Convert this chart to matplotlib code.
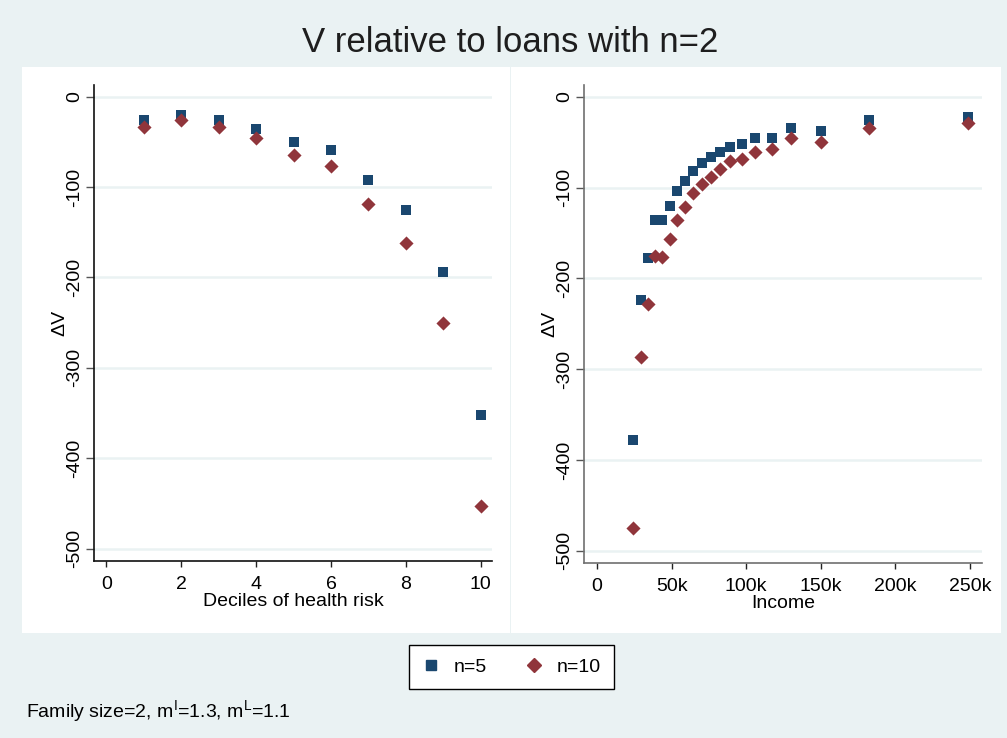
import matplotlib
matplotlib.use("Agg")
import matplotlib.pyplot as plt
from matplotlib.patches import Rectangle
from matplotlib.lines import Line2D

plt.rcParams['font.family'] = ['Liberation Sans', 'DejaVu Sans']
plt.rcParams['mathtext.fontset'] = 'custom'
plt.rcParams['mathtext.rm'] = 'Liberation Sans'

# ---- data ----
deciles = [1, 2, 3, 4, 5, 6, 7, 8, 9, 10]
health_n5 = [-26, -20, -26, -36, -50, -59, -92, -125, -194, -352]
health_n10 = [-34, -26, -34, -46, -65, -77, -119, -162, -251, -453]

income = [23800, 29200, 34000, 38700, 43800, 48700, 53500, 58800, 64300, 70400,
          76400, 82600, 89100, 97000, 105600, 117200, 129800, 150000, 182400, 248500]
income_n5 = [-378, -224, -178, -136, -136, -120, -104, -93, -82, -73,
             -66, -61, -55, -52, -46, -45, -35, -38, -26, -22]
income_n10 = [-475, -287, -228, -175, -176, -157, -136, -121, -106, -96,
              -88, -80, -71, -69, -61, -58, -46, -50, -34, -29]

y_ticks = [0, -100, -200, -300, -400, -500]
health_ticks = [0, 2, 4, 6, 8, 10]
income_ticks = [0, 50000, 100000, 150000, 200000, 250000]
income_ticklabels = ["0", "50k", "100k", "150k", "200k", "250k"]

title = "V relative to loans with n=2"
series_labels = ["n=5", "n=10"]
note = r"Family size=2, m$^{\mathrm{I}}$=1.3, m$^{\mathrm{L}}$=1.1"

# ---- style ----
BG = "#EAF2F3"
C5 = "#1a476f"
C10 = "#90353b"
W, H = 1007, 738
FS = 14

fig = plt.figure(figsize=(W / 100, H / 100), dpi=100, facecolor=BG)

def fx(px):
    return px / W

def fy(py):
    return 1 - py / H

# white panels
for x0, x1 in [(22, 509.5), (511, 1000.5)]:
    fig.patches.append(Rectangle((fx(x0), fy(633)), fx(x1 - x0), (633 - 67) / H,
                                 transform=fig.transFigure, facecolor="white",
                                 edgecolor="none", zorder=-10))

def style_axes(ax, spine_color):
    ax.set_zorder(5)
    ax.set_facecolor("white")
    for s in ["top", "right"]:
        ax.spines[s].set_visible(False)
    for s in ["left", "bottom"]:
        ax.spines[s].set_color(spine_color)
        ax.spines[s].set_linewidth(1.2)
    ax.set_yticks(y_ticks)
    ax.set_yticklabels([str(v) for v in y_ticks], rotation=90, va="center")
    ax.tick_params(axis="y", length=6, width=1, color="#555555", labelsize=FS, pad=2)
    ax.tick_params(axis="x", length=4, width=1, color="#222222", labelsize=FS, pad=7)
    ax.grid(axis="y", color=BG, linewidth=1.8)
    ax.set_axisbelow(True)
    ax.set_ylabel("ΔV", fontsize=FS, labelpad=-2)

# left axes
ax1 = fig.add_axes([fx(94), fy(560.7), fx(492 - 94), (560.7 - 85) / H])
style_axes(ax1, "#111111")
ax1.scatter(deciles, health_n5, marker="s", s=7.2 ** 2, color=C5, zorder=3, linewidths=0)
ax1.scatter(deciles, health_n10, marker="D", s=7.2 ** 2, color=C10, zorder=4, linewidths=0)
ax1.set_xticks(health_ticks)
ax1.set_xlim(-0.33, 10.30)
ax1.set_ylim(-513.5, 12.9)
ax1.set_xlabel("Deciles of health risk", fontsize=FS, labelpad=0)

# right axes
ax2 = fig.add_axes([fx(584), fy(562.7), fx(981.7 - 584), (562.7 - 85) / H])
style_axes(ax2, "#707070")
ax2.scatter(income, income_n5, marker="s", s=7.2 ** 2, color=C5, zorder=3, linewidths=0)
ax2.scatter(income, income_n10, marker="D", s=7.2 ** 2, color=C10, zorder=4, linewidths=0)
ax2.set_xticks(income_ticks)
ax2.set_xticklabels(income_ticklabels)
ax2.set_xlim(-8700, 257800)
ax2.set_ylim(-513.2, 12.9)
ax2.set_xlabel("Income", fontsize=FS, labelpad=0)

# title
fig.text(fx(510), fy(42), title, fontsize=25, ha="center", va="center", color="#1e1e1e")

# legend
handles = [Line2D([], [], marker="s", linestyle="none", markersize=7.5, color=C5),
           Line2D([], [], marker="D", linestyle="none", markersize=7.5, color=C10)]
leg = fig.legend(handles, series_labels, loc="center", bbox_to_anchor=(fx(511.5), fy(667)),
                 ncol=2, fontsize=FS, frameon=True, fancybox=False, edgecolor="black",
                 framealpha=1, handletextpad=0.7, columnspacing=2.0, borderpad=0.7,
                 handlelength=0.9, borderaxespad=0)
leg.get_frame().set_linewidth(1)
leg.set_zorder(6)

# note
fig.text(fx(26), fy(712), note, fontsize=FS, ha="left", va="center", color="black")

fig.savefig("out.png", dpi=100, facecolor=BG)
